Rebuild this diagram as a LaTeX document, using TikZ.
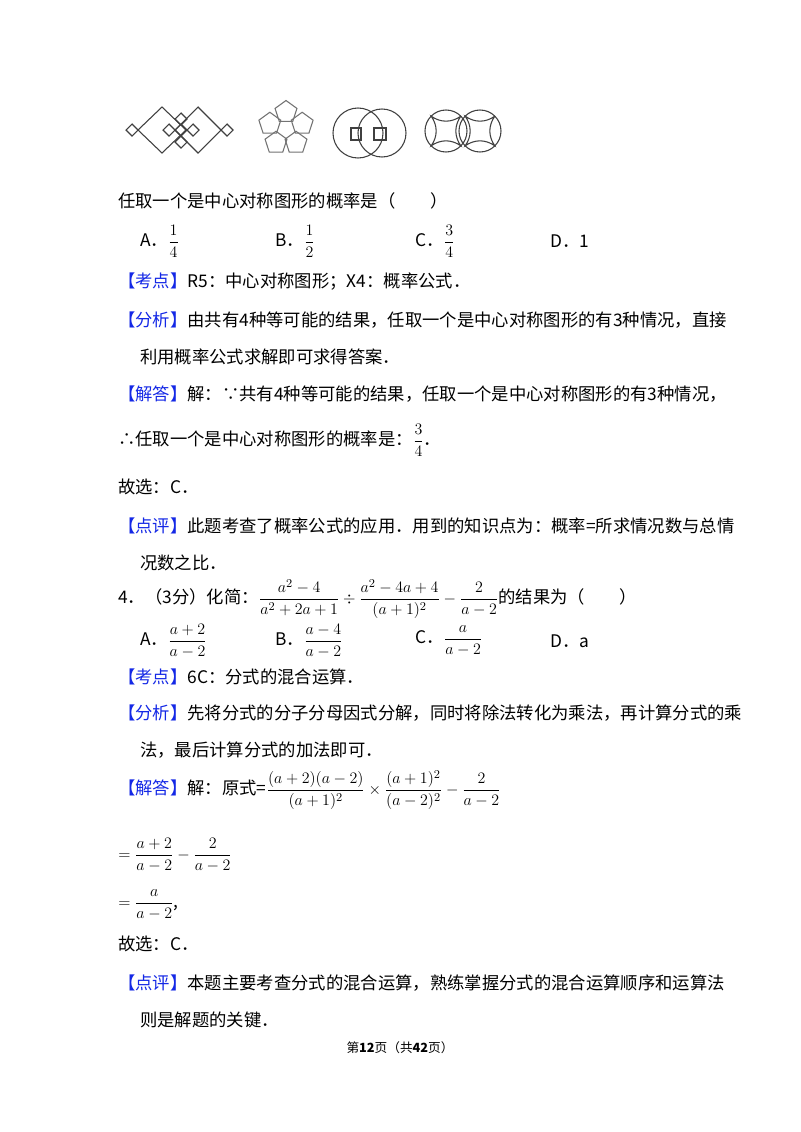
\documentclass[tikz,border=0pt]{standalone}
\usepackage{fontspec}
\setmainfont{Noto Sans CJK SC}
\usepackage{amsmath}
\definecolor{kblue}{RGB}{20,40,230}
\newcommand{\kd}[1]{\textcolor{kblue}{【#1】}}
\tikzset{txt/.style={anchor=west,inner sep=0pt,font=\fontsize{13}{15}\selectfont},
fig/.style={line width=0.8pt,black!75}}
\begin{document}
\begin{tikzpicture}[x=0.75pt,y=-0.75pt]
\useasboundingbox[fill=white] (0,0) rectangle (800,1132);
% figure 1
\draw[fig] (138,130)--(162,107)--(186,130)--(162,153)--cycle;
\draw[fig] (175,130)--(198,107)--(221,130)--(198,153)--cycle;
\foreach \cx/\cy in {132/130,227/130,169/130,181/130,193/130,181/119,181/142}
  \draw[fig] (\cx-6,\cy)--(\cx,\cy-6)--(\cx+6,\cy)--(\cx,\cy+6)--cycle;
% figure 2
\foreach \k in {0,...,4}{
  \pgfmathsetmacro{\ang}{90+72*\k}
  \begin{scope}[shift={(286,129)}]
  \draw[fig,black!55] ({17*cos(\ang)+11.5*cos(\ang)},{-17*sin(\ang)-11.5*sin(\ang)})
   \foreach \j in {1,...,4}{ -- ({17*cos(\ang)+11.5*cos(\ang+72*\j)},{-17*sin(\ang)-11.5*sin(\ang+72*\j)}) } -- cycle;
  \end{scope}}
% figure 3
\draw[fig] (358,133) circle[radius=25];
\draw[fig] (382,133) circle[radius=24];
\draw[fig] (351,128) rectangle (361,140);
\draw[fig] (374,128) rectangle (386,140);
% figure 4
\foreach \cx in {446,480}{
  \draw[fig] (\cx,131) circle[radius=21];
  \coordinate (p1) at (\cx+14.8,131-14.8);
  \coordinate (p2) at (\cx-14.8,131-14.8);
  \coordinate (p3) at (\cx-14.8,131+14.8);
  \coordinate (p4) at (\cx+14.8,131+14.8);
  \draw[fig] (p1) to[bend left=35] (p2) to[bend left=35] (p3) to[bend left=35] (p4) to[bend left=35] (p1);
}
% text
\node[txt] (t1) at (118,201) {任取一个是中心对称图形的概率是（\hspace{2em}）};
\node[txt] (o1) at (140,241) {A．\(\dfrac{1}{4}\)};
\node[txt] (o2) at (275,241) {B．\(\dfrac{1}{2}\)};
\node[txt] (o3) at (415,241) {C．\(\dfrac{3}{4}\)};
\node[txt] (o4) at (550,241) {D．1};
\node[txt] (l1) at (118,282) {\kd{考点}R5：中心对称图形；X4：概率公式．};
\node[txt] (l2) at (118,320) {\kd{分析}由共有4种等可能的结果，任取一个是中心对称图形的有3种情况，直接};
\node[txt] (l3) at (140,357) {利用概率公式求解即可求得答案．};
\node[txt] (l4) at (118,394) {\kd{解答}解：∵共有4种等可能的结果，任取一个是中心对称图形的有3种情况，};
\node[txt] (l5) at (118,440) {∴任取一个是中心对称图形的概率是：\(\dfrac{3}{4}\)．};
\node[txt] (l6) at (118,487) {故选：C．};
\node[txt] (l7) at (118,526) {\kd{点评}此题考查了概率公式的应用．用到的知识点为：概率=所求情况数与总情};
\node[txt] (l8) at (140,563) {况数之比．};
\node[txt] (q4) at (118,599) {4．（3分）化简：\(\dfrac{a^2-4}{a^2+2a+1}\div\dfrac{a^2-4a+4}{(a+1)^2}-\dfrac{2}{a-2}\)的结果为（\hspace{2em}）};
\node[txt] (p1) at (140,641) {A．\(\dfrac{a+2}{a-2}\)};
\node[txt] (p2) at (275,641) {B．\(\dfrac{a-4}{a-2}\)};
\node[txt] (p3) at (415,641) {C．\(\dfrac{a}{a-2}\)};
\node[txt] (p4) at (550,641) {D．a};
\node[txt] (m1) at (118,677) {\kd{考点}6C：分式的混合运算．};
\node[txt] (m2) at (118,713) {\kd{分析}先将分式的分子分母因式分解，同时将除法转化为乘法，再计算分式的乘};
\node[txt] (m3) at (140,750) {法，最后计算分式的加法即可．};
\node[txt] (m4) at (118,790) {\kd{解答}解：原式=\(\dfrac{(a+2)(a-2)}{(a+1)^2}\times\dfrac{(a+1)^2}{(a-2)^2}-\dfrac{2}{a-2}\)};
\node[txt] (m5) at (118,855) {\(=\dfrac{a+2}{a-2}-\dfrac{2}{a-2}\)};
\node[txt] (m6) at (118,905) {\(=\dfrac{a}{a-2}\),};
\node[txt] (m7) at (118,944) {故选：C．};
\node[txt] (m8) at (118,983) {\kd{点评}本题主要考查分式的混合运算，熟练掌握分式的混合运算顺序和运算法};
\node[txt] (m9) at (140,1020) {则是解题的关键．};
\node[inner sep=0pt,font=\fontsize{9.5}{11}\selectfont] (pg) at (400,1048) {第\textbf{12}页（共\textbf{42}页）};
\end{tikzpicture}
\end{document}
